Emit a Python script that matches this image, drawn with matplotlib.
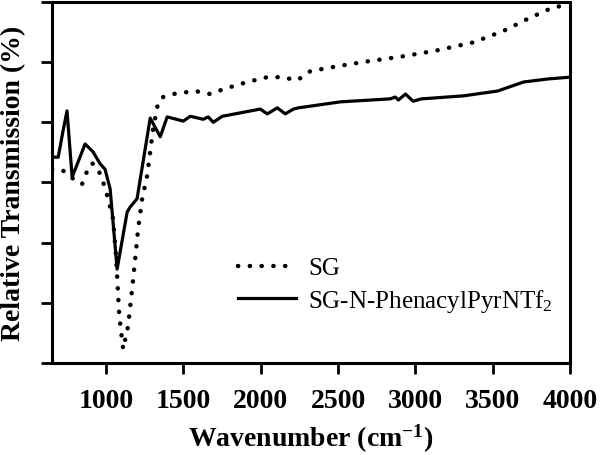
import matplotlib
matplotlib.use("Agg")
import matplotlib.pyplot as plt

plt.rcParams["font.family"] = ["Liberation Serif", "DejaVu Serif"]
plt.rcParams["mathtext.default"] = "regular"

# SG-N-PhenacylPyrNTf2 (solid)
wn_il = [650, 690, 720, 747, 780, 820, 864, 915, 961, 993, 1026, 1071,
         1136, 1155, 1200, 1285, 1350, 1395, 1499, 1544, 1628, 1660, 1693,
         1751, 1997, 2042, 2107, 2159, 2211, 2243, 2515, 2839, 2870, 2890,
         2936, 2985, 3040, 3098, 3312, 3532, 3700, 3856, 4000]
tr_il = [3.42, 3.42, 3.84, 4.19, 3.09, 3.35, 3.64, 3.51, 3.31, 3.22, 2.89, 1.56,
         2.51, 2.59, 2.73, 4.07, 3.76, 4.09, 4.02, 4.10, 4.05, 4.09, 4.00,
         4.10, 4.22, 4.14, 4.24, 4.14, 4.22, 4.24, 4.34, 4.39, 4.42, 4.37,
         4.47, 4.35, 4.39, 4.40, 4.44, 4.52, 4.67, 4.72, 4.75]

# SG (dotted)
wn_sg = [650, 715, 812, 844, 877, 909, 941, 974, 1013, 1045, 1065, 1085,
         1110, 1142, 1175, 1207, 1233, 1265, 1304, 1337, 1369, 1434, 1576,
         1673, 1758, 1913, 2042, 2146, 2192, 2237, 2321, 2515, 2710, 2904,
         3131, 3377, 3571, 3727, 3856, 3960, 4000]
tr_sg = [3.22, 3.21, 3.01, 2.97, 3.19, 3.32, 3.26, 3.06, 2.73, 2.39, 1.73, 0.78,
         0.23, 0.61, 1.40, 2.23, 2.73, 3.11, 3.89, 4.34, 4.42, 4.47, 4.52,
         4.47, 4.55, 4.67, 4.75, 4.75, 4.72, 4.70, 4.85, 4.94, 5.02, 5.09,
         5.19, 5.33, 5.52, 5.72, 5.87, 5.95, 5.97]

x_ticks = [1000, 1500, 2000, 2500, 3000, 3500, 4000]
y_ticks = [0, 1, 2, 3, 4, 5, 6]

fig = plt.figure(figsize=(6, 4.56), dpi=100)
ax = fig.add_axes([0.0867, 0.2018, 0.8633, 0.7917])

ax.plot(wn_sg, tr_sg, color="black", lw=3.2, linestyle=(0, (0.05, 2.6)),
        dash_capstyle="round", solid_capstyle="round", label="SG")
ax.plot(wn_il, tr_il, color="black", lw=2.3, solid_joinstyle="round",
        label="SG-N-PhenacylPyrNTf$_2$")

ax.set_xlim(650, 4000)
ax.set_ylim(0, 6)
ax.set_xticks(x_ticks)
ax.set_yticks(y_ticks)
ax.set_yticklabels([])
ax.tick_params(direction="out", length=8, width=2, labelsize=20, pad=10)
for lab in ax.get_xticklabels():
    lab.set_fontweight("bold")
for s in ax.spines.values():
    s.set_linewidth(2.2)

ax.set_xlabel("Wavenumber (cm$^{-1}$)", fontsize=20, fontweight="bold", labelpad=6)
ax.set_ylabel("Relative Transmission (%)", fontsize=20, fontweight="bold")
ax.yaxis.set_label_coords(-0.05, 0.5)

ax.legend(loc="center left", bbox_to_anchor=(0.36, 0.215), frameon=False,
          fontsize=18, handlelength=2.3, handletextpad=0.5, borderpad=0,
          borderaxespad=0, labelspacing=0.3)

fig.savefig("out.png", dpi=100)
